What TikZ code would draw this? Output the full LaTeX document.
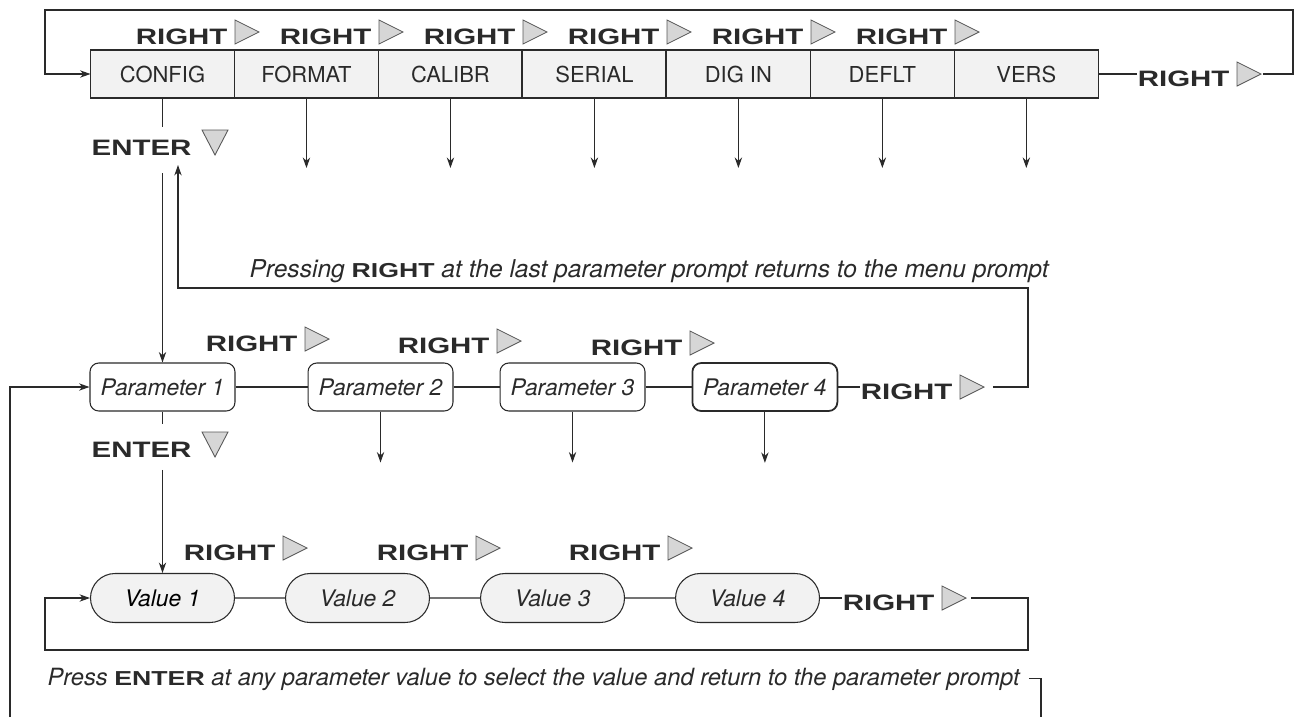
\documentclass[tikz,border=0pt]{standalone}
\usepackage{fontspec}
\setmainfont{TeX Gyre Heros}
\newfontfamily\keyfont{Liberation Sans}[FakeStretch=1.32]
\usetikzlibrary{positioning,arrows.meta,shapes.misc}

\definecolor{ink}{HTML}{2A2A2A}
\definecolor{boxgray}{HTML}{F2F2F2}
\definecolor{trigray}{HTML}{D6D6D6}

\newcommand{\boxfont}{\fontsize{12.5}{14}\selectfont}
\newcommand{\itfont}{\fontsize{13}{15}\selectfont\itshape}
\newcommand{\notefont}{\fontsize{14}{16}\selectfont\itshape}
\newcommand{\kw}[1]{{\fontsize{11.5}{13}\selectfont\keyfont\upshape\bfseries #1}}

\tikzset{
  menubox/.style={draw, fill=boxgray, minimum width=2.88cm, minimum height=0.96cm,
    inner sep=0, outer sep=0, font=\boxfont},
  parbox/.style={draw, fill=white, rounded corners=5pt, minimum width=2.9cm,
    minimum height=0.96cm, inner sep=0, font=\itfont},
  valbox/.style={draw, fill=boxgray, rounded rectangle, minimum width=2.88cm,
    minimum height=0.98cm, inner sep=0, font=\itfont},
  keytxt/.style={inner sep=0, font={\fontsize{12.7}{14}\selectfont\keyfont\bfseries}},
  keytri/.style={draw=black!65, fill=trigray, line width=0.5pt},
  note/.style={inner sep=0, font=\notefont},
  arr/.style={-{Stealth[length=6pt,width=4.2pt]}}
}

% RIGHT key: name, left x of triangle, baseline y
\newcommand{\keyright}[3]{%
  \node[keytxt, anchor=base east] (#1) at (#2-7,#3) {RIGHT};
  \draw[keytri] (#2,#3) -- (#2,#3-24) -- (#2+24,#3-12) coordinate (#1t) -- cycle;}
% ENTER key
\newcommand{\keyenter}[3]{%
  \node[keytxt, anchor=base east] (#1) at (#2-10,#3) {ENTER};
  \draw[keytri] (#2,#3-25) -- (#2+26,#3-25) -- (#2+13,#3) -- cycle;}

\begin{document}
\begin{tikzpicture}[x=0.02cm, y=-0.02cm, ink, line width=0.6pt]
  \useasboundingbox (0,0) rectangle (1294,717);

  % menu row
  \node[menubox] (config) at (162.5,74) {CONFIG};
  \node[menubox, right=0pt of config] (format) {FORMAT};
  \node[menubox, right=0pt of format] (calibr) {CALIBR};
  \node[menubox, right=0pt of calibr, line width=1.1pt] (serial) {SERIAL};
  \node[menubox, right=0pt of serial] (digin) {DIG IN};
  \node[menubox, right=0pt of digin] (deflt) {DEFLT};
  \node[menubox, right=0pt of deflt] (vers) {VERS};

  \foreach \x [count=\i] in {235,379,523,667,811,955}
    \keyright{rt\i}{\x}{44};
  \foreach \m in {format,calibr,serial,digin,deflt,vers}
    \draw[arr] (\m.south) -- ++(0,70);

  \keyright{rv}{1237}{86}
  \coordinate (ml1) at (1293,10);
  \coordinate (ml2) at (45,10);
  \draw (vers.east) -- (vers.east -| rv.west);
  \draw[arr] ([xshift=1pt]rvt) -| (ml1) -| (ml2 |- config) -- (config.west);

  \keyenter{ent1}{202}{155}
  \draw (config.south) -- ([yshift=7pt]config.south |- ent1.north);

  % parameter row
  \node[parbox] (par1) at (162.5,387) {Parameter 1};
  \node[parbox, right=1.44cm of par1] (par2) {Parameter 2};
  \node[parbox, right=0.92cm of par2] (par3) {Parameter 3};
  \node[parbox, right=0.92cm of par3, line width=1pt] (par4) {Parameter 4};
  \draw[arr] ([yshift=-10pt]config.south |- ent1.south) -- (par1.north);
  \draw (par1) -- (par2);
  \draw (par2) -- (par3);
  \draw (par3) -- (par4);
  \foreach \p in {par2,par3,par4}
    \draw[arr] (\p.south) -- ++(0,51);

  \keyright{pr1}{305}{351}
  \keyright{pr2}{497}{353}
  \keyright{pr3}{690}{355}
  \keyright{pr4}{960}{399}
  \draw (par4.east) -- (par4.east -| pr4.west);
  \coordinate (pc1) at (1028,288);
  \coordinate (menuback) at (178,165);
  \draw[arr] ([xshift=5pt]pr4t) -| (pc1) -| (menuback);
  \node[note, anchor=base west] (lasttxt) at (249,277)
    {Pressing \kw{RIGHT} at the last parameter prompt returns to the menu prompt};

  \keyenter{ent2}{202}{457}
  \draw (par1.south) -- ([yshift=10pt]par1.south |- ent2.north);

  % value row
  \node[valbox, text=black] (val1) at (162.5,598) {Value 1};
  \node[valbox, right=1.0cm of val1] (val2) {Value 2};
  \node[valbox, right=1.0cm of val2] (val3) {Value 3};
  \node[valbox, right=1.0cm of val3] (val4) {Value 4};
  \draw[arr] ([yshift=-7pt]par1.south |- ent2.south) -- (val1.north);
  \draw (val1) -- (val2);
  \draw (val2) -- (val3);
  \draw (val3) -- (val4);

  \keyright{vr1}{283}{560}
  \keyright{vr2}{476}{560}
  \keyright{vr3}{668}{560}
  \keyright{vr4}{942}{610}
  \draw (val4.east) -- (val4.east -| vr4.west);
  \coordinate (vl1) at (1028,650);
  \coordinate (vl2) at (45,650);
  \draw[arr] ([xshift=3pt]vr4t) -| (vl1) -| (vl2 |- val1) -- (val1.west);

  % back to parameter prompt
  \node[note, font={\fontsize{13.5}{16}\selectfont\itshape}, anchor=base west] (presstxt) at (47,685)
    {Press \kw{ENTER} at any parameter value to select the value and return to the parameter prompt};
  \coordinate (bl) at (10,717);
  \coordinate (br) at (1041,717);
  \draw[arr] (bl) |- (par1.west);
  \draw ([xshift=5pt]presstxt.east) -- (presstxt.east -| br) -- (br);
\end{tikzpicture}
\end{document}
